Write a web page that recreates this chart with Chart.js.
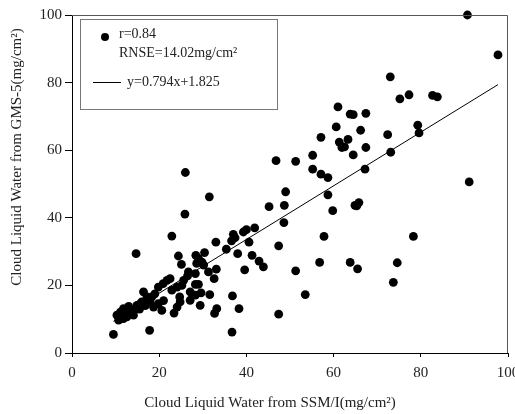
<!DOCTYPE html>
<html>
<head>
<meta charset="utf-8">
<script src="https://cdn.jsdelivr.net/npm/chart.js@4.4.1/dist/chart.umd.min.js"></script>
<style>
  html, body { margin: 0; padding: 0; background: #fff; }
  #wrap { width: 515px; height: 414px; }
</style>
</head>
<body>
<div id="wrap"><canvas id="clwChart" width="515" height="414"></canvas></div>
<script>
// Cloud liquid water, SSM/I (x) against GMS-5 (y), mg/cm2
const ssmiValues = [
  90.7, 97.7, 73.0, 75.2, 77.3, 82.7, 83.8, 79.3, 79.6, 72.4,
  61.0, 63.8, 64.5, 67.4, 60.6, 66.2, 57.1, 61.3, 63.3, 61.9,
  62.5, 67.4, 64.5, 73.1, 55.2, 51.3, 55.2, 57.1, 58.7, 67.2,
  49.0, 58.7, 46.8, 91.1, 45.2, 48.7, 59.8, 64.9, 65.8, 65.3,
  48.6, 57.8, 78.3, 47.4, 56.8, 63.8, 65.5, 74.6, 51.3, 73.7,
  53.5, 47.4, 26.0, 31.5, 25.9, 22.9, 41.9, 40.0, 39.3, 37.0,
  37.4, 36.6, 33.0, 40.6, 35.4, 38.0, 41.3, 42.9, 43.9, 39.6,
  24.4, 25.1, 28.4, 30.4, 29.0, 29.8, 30.2, 28.6, 33.1, 32.6,
  31.3, 26.7, 28.3, 25.6, 25.2, 22.5, 28.3, 29.0, 29.6, 31.6,
  36.8, 29.4, 33.2, 32.7, 38.3, 36.7, 14.7, 26.5, 24.7, 24.1,
  23.4, 21.8, 20.9, 19.8, 18.3, 16.4, 17.2, 16.0, 18.7, 17.9,
  19.8, 20.6, 14.9, 13.8, 14.1, 12.6, 11.8, 11.1, 10.3, 10.7,
  11.8, 9.5, 17.8, 22.9, 24.1, 24.8, 27.1, 28.3, 27.1, 12.0,
  15.5, 19.0, 21.0, 13.0, 15.7, 16.8, 12.4, 14.4
];
const gmsValues = [
  100.0, 88.2, 81.7, 75.2, 76.4, 76.2, 75.8, 67.4, 65.1, 64.6,
  72.8, 70.7, 70.5, 70.9, 66.9, 65.9, 63.8, 62.4, 63.2, 60.8,
  61.0, 60.8, 58.6, 59.4, 58.5, 56.7, 54.4, 52.9, 51.9, 54.4,
  47.7, 46.8, 56.9, 50.6, 43.3, 43.7, 42.1, 43.7, 44.5, 43.5,
  38.6, 34.5, 34.5, 31.7, 26.8, 26.8, 24.9, 26.7, 24.3, 20.9,
  17.3, 11.5, 53.4, 46.2, 41.1, 34.6, 37.0, 36.5, 35.8, 35.1,
  34.1, 33.2, 32.8, 32.8, 30.7, 29.4, 28.9, 27.2, 25.5, 24.6,
  28.7, 26.2, 28.9, 29.7, 28.0, 26.9, 26.0, 26.5, 24.8, 22.0,
  24.0, 24.0, 23.5, 21.5, 20.0, 22.0, 20.3, 20.3, 17.8, 17.3,
  16.9, 14.1, 13.1, 11.7, 13.1, 6.2, 29.4, 22.8, 16.6, 13.6,
  11.8, 21.5, 20.5, 19.5, 16.6, 18.1, 16.6, 15.1, 13.6, 15.1,
  14.6, 12.6, 14.1, 12.6, 11.2, 10.7, 13.1, 12.1, 11.2, 9.7,
  10.2, 5.5, 6.7, 18.6, 19.5, 15.1, 18.1, 17.1, 15.6, 11.5,
  13.0, 17.5, 15.5, 13.8, 14.6, 14.0, 11.8, 12.8
];
const xTickLabels = [0, 20, 40, 60, 80, 100];
const yTickLabels = [0, 20, 40, 60, 80, 100];

// fitted line y = 0.794x + 1.825, drawn over the range of the data
const fitSlope = 0.794;
const fitIntercept = 1.825;
const fitRange = [9.5, 97.7];

const serif = "'Liberation Serif', 'DejaVu Serif', serif";
const textColor = "#222";

const points = ssmiValues.map((x, i) => ({ x: x, y: gmsValues[i] }));
const fitLine = fitRange.map(x => ({ x: x, y: fitSlope * x + fitIntercept }));

// frame, legend box and axis titles
const decorations = {
  id: "decorations",
  afterDraw(chart) {
    const ctx = chart.ctx;
    const a = chart.chartArea;
    ctx.save();

    // top and right edges of the plot frame
    ctx.strokeStyle = "#555";
    ctx.lineWidth = 1;
    ctx.beginPath();
    ctx.moveTo(a.left, a.top + 0.5);
    ctx.lineTo(a.right - 0.5, a.top + 0.5);
    ctx.lineTo(a.right - 0.5, a.bottom);
    ctx.stroke();

    // legend
    ctx.strokeStyle = "#777";
    ctx.strokeRect(80.5, 19.5, 197, 90);
    ctx.fillStyle = "#000";
    ctx.beginPath();
    ctx.arc(105, 37, 4, 0, Math.PI * 2);
    ctx.fill();
    ctx.strokeStyle = "#000";
    ctx.beginPath();
    ctx.moveTo(93, 82.5);
    ctx.lineTo(121, 82.5);
    ctx.stroke();
    ctx.fillStyle = textColor;
    ctx.font = "14px " + serif;
    ctx.textAlign = "left";
    ctx.textBaseline = "middle";
    ctx.fillText("r=0.84", 119, 34);
    ctx.fillText("RNSE=14.02mg/cm\u00b2", 119, 53);
    ctx.fillText("y=0.794x+1.825", 127, 82);

    // axis titles
    ctx.font = "15px " + serif;
    ctx.textAlign = "center";
    ctx.fillText("Cloud Liquid Water from SSM/I(mg/cm\u00b2)", 270, 403);
    ctx.translate(17, 157);
    ctx.rotate(-Math.PI / 2);
    ctx.fillText("Cloud Liquid Water from GMS-5(mg/cm\u00b2)", 0, 0);
    ctx.restore();
  }
};

new Chart(document.getElementById("clwChart"), {
  type: "scatter",
  data: {
    datasets: [
      {
        label: "r=0.84",
        data: points,
        backgroundColor: "#000",
        borderWidth: 0,
        pointRadius: 4.4,
        clip: false
      },
      {
        type: "line",
        label: "y=0.794x+1.825",
        data: fitLine,
        borderColor: "#000",
        borderWidth: 1,
        pointRadius: 0,
        fill: false
      }
    ]
  },
  options: {
    responsive: false,
    animation: false,
    layout: { padding: { left: 0, top: 15, right: 7, bottom: 0 } },
    plugins: {
      legend: { display: false },
      tooltip: { enabled: false }
    },
    scales: {
      x: {
        type: "linear",
        min: 0,
        max: 100,
        afterBuildTicks: s => { s.ticks = xTickLabels.map(v => ({ value: v })); },
        afterFit: s => { s.height = 61; s.paddingLeft = 0; s.paddingRight = 0; },
        ticks: {
          color: textColor,
          font: { family: serif, size: 15 },
          padding: 7,
          maxRotation: 0
        },
        grid: { drawOnChartArea: false, tickLength: 4, color: "#000" },
        border: { color: "#000", width: 1 }
      },
      y: {
        type: "linear",
        min: 0,
        max: 100,
        afterBuildTicks: s => { s.ticks = yTickLabels.map(v => ({ value: v })); },
        afterFit: s => { s.width = 72; s.paddingTop = 0; s.paddingBottom = 0; },
        ticks: {
          color: textColor,
          font: { family: serif, size: 15 },
          padding: 3
        },
        grid: { drawOnChartArea: false, tickLength: 7, color: "#000" },
        border: { color: "#000", width: 1 }
      }
    }
  },
  plugins: [decorations]
});
</script>
</body>
</html>
